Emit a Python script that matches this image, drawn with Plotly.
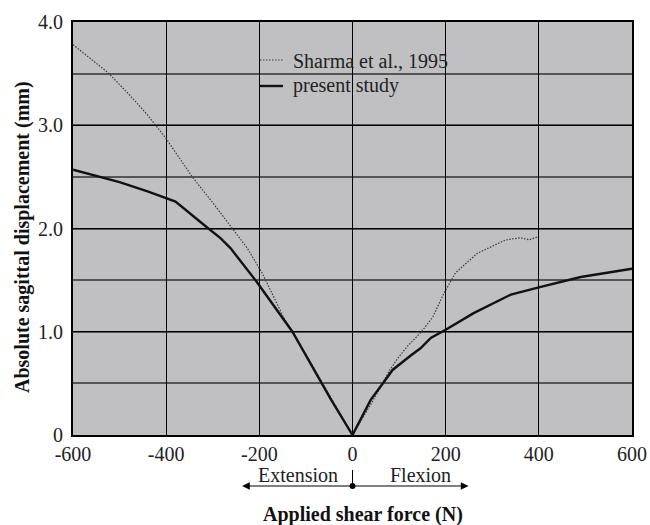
import plotly.graph_objects as go

# Data
sharma_x = [-600, -560, -525, -480, -440, -400, -344, -300, -256, -226, -194, -148, -100, -50, 0,
            50, 80, 100, 118, 148, 172, 196, 221, 268, 300, 329, 361, 379, 398]
sharma_y = [3.78, 3.64, 3.51, 3.30, 3.10, 2.87, 2.50, 2.25, 1.99, 1.81, 1.57, 1.14, 0.78, 0.39, 0,
            0.38, 0.63, 0.76, 0.86, 1.00, 1.14, 1.37, 1.57, 1.76, 1.83, 1.89, 1.91, 1.89, 1.92]

present_x = [-600, -500, -440, -380, -312, -284, -262, -205, -129, -69, -47, 0,
             20, 39, 67, 86, 125, 146, 168, 200, 260, 340, 400, 490, 600]
present_y = [2.57, 2.45, 2.36, 2.26, 2.01, 1.91, 1.81, 1.48, 1.0, 0.52, 0.35, 0,
             0.18, 0.34, 0.51, 0.63, 0.77, 0.84, 0.94, 1.02, 1.18, 1.36, 1.43, 1.53, 1.61]

x_ticks = [-600, -400, -200, 0, 200, 400, 600]
x_ticklabels = ["-600", "-400", "-200", "0", "200", "400", "600"]
y_ticks = [0, 1, 2, 3, 4]
y_ticklabels = ["0", "1.0", "2.0", "3.0", "4.0"]

series_names = ["Sharma et al., 1995", "present study"]
x_title = "<b>Applied shear force (N)</b>"
y_title = "<b>Absolute sagittal displacement (mm)</b>"

FONT = "Liberation Serif, Times New Roman, serif"
BG = "#c0c0c2"
TXT = "#222222"

L, R, T, B = 73, 18, 22, 90
PW, PH = 650 - L - R, 525 - T - B


def px(xp):
    return (xp - L) / PW


def py(yp):
    return (525 - B - yp) / PH


fig = go.Figure()
fig.add_trace(go.Scatter(x=sharma_x, y=sharma_y, mode="lines", name=series_names[0],
                         showlegend=False,
                         line=dict(color="#3a3a3a", width=1.2, dash="1.5px,1.5px")))
fig.add_trace(go.Scatter(x=present_x, y=present_y, mode="lines", name=series_names[1],
                         showlegend=False,
                         line=dict(color="#111111", width=2.4)))

# legend background patch covering gridlines
fig.add_shape(type="rect", xref="paper", yref="paper", layer="between",
              x0=px(238), x1=px(470), y0=py(118), y1=1,
              fillcolor=BG, line=dict(width=0))

# legend (samples + labels)
fig.add_shape(type="line", xref="paper", yref="paper", x0=px(260), x1=px(283),
              y0=py(60), y1=py(60), line=dict(color="#3a3a3a", width=1.2, dash="1.5px,1.5px"))
fig.add_shape(type="line", xref="paper", yref="paper", x0=px(260), x1=px(283),
              y0=py(86), y1=py(86), line=dict(color="#111111", width=2.4))
fig.add_annotation(x=px(291), y=py(61), xref="paper", yref="paper", text=series_names[0],
                   xanchor="left", yanchor="middle", showarrow=False,
                   font=dict(family=FONT, size=20, color=TXT))
fig.add_annotation(x=px(291), y=py(85), xref="paper", yref="paper", text=series_names[1],
                   xanchor="left", yanchor="middle", showarrow=False,
                   font=dict(family=FONT, size=20, color=TXT))

# Extension / Flexion arrows under the axis
arrow_y = py(486)
fig.add_annotation(x=-237, y=arrow_y, xref="x", yref="paper", ax=110, ay=0,
                   axref="pixel", ayref="pixel", text="", showarrow=True,
                   arrowhead=2, arrowsize=1.4, arrowwidth=1.1, arrowcolor="black")
fig.add_annotation(x=249, y=arrow_y, xref="x", yref="paper", ax=-116, ay=0,
                   axref="pixel", ayref="pixel", text="", showarrow=True,
                   arrowhead=2, arrowsize=1.4, arrowwidth=1.1, arrowcolor="black")
fig.add_shape(type="line", xref="x", yref="paper", x0=0, x1=0,
              y0=arrow_y, y1=py(470), line=dict(color="black", width=1))
fig.add_shape(type="circle", xref="x", yref="paper", xsizemode="pixel", ysizemode="pixel",
              xanchor=0, yanchor=arrow_y, x0=-3, x1=3, y0=-3, y1=3,
              fillcolor="black", line=dict(width=0))
fig.add_annotation(x=-118, y=py(475), xref="x", yref="paper", text="Extension",
                   xanchor="center", yanchor="middle",
                   showarrow=False, font=dict(family=FONT, size=20, color=TXT))
fig.add_annotation(x=146, y=py(475), xref="x", yref="paper", text="Flexion",
                   xanchor="center", yanchor="middle",
                   showarrow=False, font=dict(family=FONT, size=20, color=TXT))

# axis titles (placed as in the reference)
fig.add_annotation(x=px(363), y=py(514), xref="paper", yref="paper", text=x_title,
                   xanchor="center", yanchor="middle", showarrow=False,
                   font=dict(family=FONT, size=20, color="#111"))
fig.add_annotation(x=px(22), y=py(237), xref="paper", yref="paper", text=y_title,
                   textangle=-90, xanchor="center", yanchor="middle", showarrow=False,
                   font=dict(family=FONT, size=20, color="#111"))

fig.update_layout(
    width=650, height=525,
    margin=dict(l=L, r=R, t=T, b=B),
    paper_bgcolor="white", plot_bgcolor=BG,
    font=dict(family=FONT, size=20, color=TXT),
    showlegend=False,
    xaxis=dict(range=[-600, 600], tickvals=x_ticks, ticktext=x_ticklabels,
               showline=True, linecolor="black", linewidth=2, mirror=True,
               showgrid=True, gridcolor="black", gridwidth=1.2, zeroline=False,
               ticks="", automargin=False,
               tickfont=dict(family=FONT, size=20, color=TXT)),
    yaxis=dict(range=[0, 4], tickvals=y_ticks, ticktext=y_ticklabels,
               showline=True, linecolor="black", linewidth=2, mirror=True,
               showgrid=True, gridcolor="black", gridwidth=1.2, zeroline=False,
               ticks="", automargin=False, ticklabelstandoff=4,
               tickfont=dict(family=FONT, size=20, color=TXT),
               minor=dict(dtick=0.5, tick0=0, showgrid=True, gridcolor="#555555", gridwidth=2)),
)

fig.write_html("out.html")
